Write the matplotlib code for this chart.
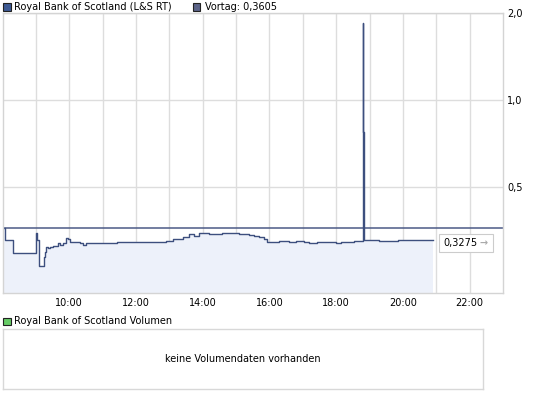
import matplotlib
matplotlib.use("Agg")
import matplotlib.pyplot as plt
from matplotlib.patches import Rectangle
from matplotlib.ticker import NullLocator, FixedLocator

# price trace (time of trade, price in EUR)
times = ["08:00", "08:05", "08:19", "09:01", "09:02", "09:06", "09:14", "09:16",
         "09:18", "09:22", "09:25", "09:31", "09:40", "09:43", "09:49", "09:55",
         "09:58", "10:01", "10:19", "10:25", "10:31", "10:55", "11:25", "11:54",
         "12:30", "12:54", "13:06", "13:24", "13:36", "13:45", "13:54", "14:12",
         "14:35", "15:05", "15:23", "15:32", "15:41", "15:50", "15:56", "16:08",
         "16:17", "16:35", "16:48", "17:02", "17:11", "17:26", "17:56", "18:00",
         "18:09", "18:32", "18:48", "18:49", "18:50", "19:17", "19:52", "20:28",
         "20:55"]
prices = [0.3605, 0.3266, 0.295, 0.345, 0.3266, 0.266, 0.286, 0.297,
          0.309, 0.306, 0.309, 0.3116, 0.319, 0.314, 0.319, 0.332,
          0.329, 0.3215, 0.319, 0.314, 0.319, 0.319, 0.320, 0.3215,
          0.322, 0.324, 0.329, 0.334, 0.342, 0.337, 0.345, 0.342,
          0.345, 0.342, 0.339, 0.337, 0.334, 0.329, 0.3215, 0.3215,
          0.324, 0.3215, 0.324, 0.3215, 0.319, 0.3215, 0.3215, 0.319,
          0.3215, 0.324, 1.84, 0.774, 0.3266, 0.324, 0.3266, 0.3275,
          0.3275]
prev_close = 0.3605
last_price = "0,3275"
y_ticks = [0.5, 1.0, 2.0]
y_labels = ["0,5", "1,0", "2,0"]
x_labels = ["10:00", "12:00", "14:00", "16:00", "18:00", "20:00", "22:00"]

LINE = "#3d4f7e"
FILL = "#edf1fa"
GRID = "#dddddd"
FONT = "DejaVu Sans"
FS = 7.0

W, H = 545, 398
fig = plt.figure(figsize=(W / 100, H / 100), dpi=100)


def fx(px):
    return px / W


def fy(py):
    return 1 - py / H


hours = [int(t[:2]) + int(t[3:]) / 60 for t in times]

ax = fig.add_axes([fx(2.5), fy(293), fx(503) - fx(2.5), fy(13) - fy(293)])
ax.fill_between(hours, prices, 0.1, step="post", color=FILL, lw=0)
ax.axhline(prev_close, color="#4b5a86", lw=1.1)
ax.step(hours, prices, where="post", color=LINE, lw=1.0)
ax.set_yscale("log")
ax.set_ylim(0.2137, 2.0)
ax.set_xlim(8, 23)

ax.yaxis.tick_right()
ax.yaxis.set_major_locator(FixedLocator(y_ticks))
ax.yaxis.set_minor_locator(NullLocator())
ax.set_yticklabels(y_labels)
ax.set_xticks([10 + 2 * i for i in range(len(x_labels))])
ax.set_xticklabels(x_labels)
ax.set_xticks(range(9, 23), minor=True)
ax.tick_params(which="both", length=0, labelsize=FS)
ax.tick_params(axis="y", pad=3)
ax.tick_params(axis="x", pad=3.5)
for lab in ax.get_xticklabels() + ax.get_yticklabels():
    lab.set_family(FONT)
ax.grid(True, which="both", axis="x", color=GRID, lw=1)
ax.grid(True, which="major", axis="y", color=GRID, lw=1)
ax.set_axisbelow(True)
for s in ax.spines.values():
    s.set_color("#d4d4d4")
    s.set_linewidth(1)

# header legend
fig.add_artist(Rectangle((fx(3), fy(10.5)), 7.5 / W, 7.5 / H, transform=fig.transFigure,
                         facecolor="#3e5a94", edgecolor="#222222", lw=0.8))
fig.text(fx(14), fy(7), "Royal Bank of Scotland (L&S RT)", fontsize=FS,
         family=FONT, va="center", ha="left")
fig.add_artist(Rectangle((fx(193), fy(10.5)), 7.5 / W, 7.5 / H, transform=fig.transFigure,
                         facecolor="#5b6388", edgecolor="#222222", lw=0.8))
fig.text(fx(205), fy(7), "Vortag: " + "0,3605", fontsize=FS,
         family=FONT, va="center", ha="left")

# last price box
fig.add_artist(Rectangle((fx(438.5), fy(252)), 54 / W, 18 / H, transform=fig.transFigure,
                         facecolor="white", edgecolor="#cccccc", lw=0.8))
fig.text(fx(443), fy(243), last_price, fontsize=FS, family=FONT, va="center", ha="left")
fig.text(fx(479), fy(243), "\u2192", fontsize=FS, family=FONT, va="center", ha="left",
         color="#aaaaaa", weight="bold")

# volume panel
fig.add_artist(Rectangle((fx(3), fy(325)), 7.5 / W, 7.5 / H, transform=fig.transFigure,
                         facecolor="#66cc66", edgecolor="#222222", lw=0.8))
fig.text(fx(14), fy(321.5), "Royal Bank of Scotland Volumen", fontsize=FS,
         family=FONT, va="center", ha="left")
ax2 = fig.add_axes([fx(2.7), fy(389), fx(483) - fx(2.7), fy(329) - fy(389)])
ax2.set_xticks([])
ax2.set_yticks([])
for s in ax2.spines.values():
    s.set_color("#d8d8d8")
    s.set_linewidth(1)
ax2.text(0.5, 0.5, "keine Volumendaten vorhanden", transform=ax2.transAxes,
         ha="center", va="center", fontsize=FS, family=FONT)

fig.savefig("out.png", dpi=100)
